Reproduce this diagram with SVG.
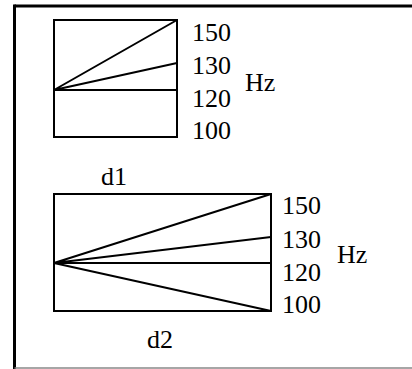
<svg xmlns="http://www.w3.org/2000/svg" width="412" height="369" viewBox="0 0 412 369">
<style>
.b{fill:none;stroke:#000;stroke-width:2}
.l{stroke:#000;stroke-width:2;fill:none}
.t{font-family:'Liberation Serif','Times New Roman',Times,serif;font-size:26px;fill:#000}
</style>
<rect width="412" height="369" fill="#fff"/>
<g id="frame">
<line x1="14.5" y1="6" x2="412" y2="6" stroke="#000" stroke-width="3"/>
<line x1="14.5" y1="4.5" x2="14.5" y2="369" stroke="#000" stroke-width="3"/>
<line x1="14.5" y1="368" x2="412" y2="368" stroke="#888" stroke-width="1.5"/>
</g>
<g id="d1" class="t">
<rect class="b" x="54" y="20" width="123" height="117"/>
<text x="101" y="185">d1</text>
<text x="192" y="41">150</text>
<text x="192" y="74">130</text>
<text x="192" y="107">120</text>
<text x="192" y="139">100</text>
<text x="245" y="91">Hz</text>
</g>
<g id="d2" class="t">
<rect class="b" x="54" y="194" width="217" height="117"/>
<text x="147" y="348">d2</text>
<text x="282" y="214">150</text>
<text x="282" y="248">130</text>
<text x="282" y="281">120</text>
<text x="282" y="313">100</text>
<text x="337" y="263">Hz</text>
</g>
<g id="connectors">
<path class="l" d="M54 90H177M54 90L177 20M54 90L177 63"/>
<path class="l" d="M54 263H271M54 263L271 194M54 263L271 237M54 263L271 311"/>
</g>
</svg>
